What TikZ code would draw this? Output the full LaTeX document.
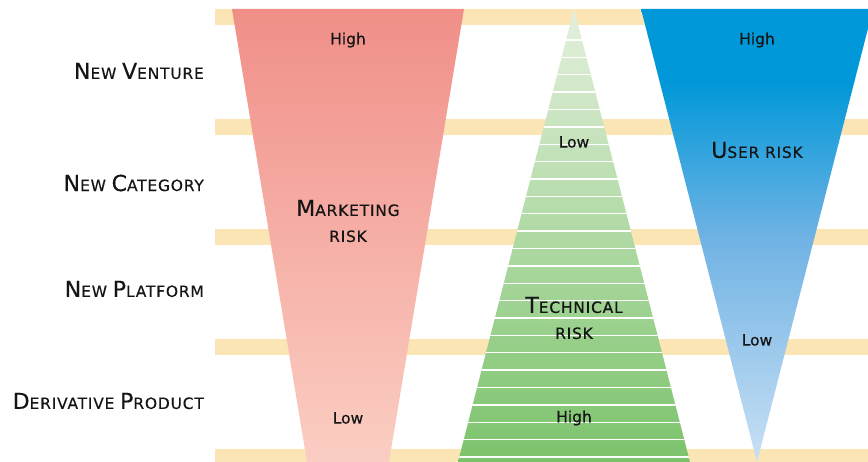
\documentclass[tikz,border=0pt]{standalone}
\usepackage{fontspec}
\setmainfont[FakeBold=0.4]{DejaVu Sans}
\newfontfamily\scfont[LetterSpace=5,FakeBold=0.4]{DejaVu Sans}
\definecolor{band}{HTML}{FCE5B5}
\definecolor{mkTop}{HTML}{F08F88}
\definecolor{mkBot}{HTML}{FBCEC3}
\definecolor{tcTop}{HTML}{E4F0DD}
\definecolor{tcBot}{HTML}{7BC36B}
\definecolor{usrTop}{HTML}{0098D8}
\definecolor{usrMid}{HTML}{6FB2E4}
\definecolor{usrBot}{HTML}{C9E0F4}
\definecolor{ink}{HTML}{151515}
% large initial capitals for the hand-made small caps
\newcommand\Bc[1]{{\fontsize{22}{24}\selectfont #1}}
\pgfdeclareverticalshading{usershade}{100bp}{%
  color(0bp)=(usrBot); color(25bp)=(usrBot); color(50bp)=(usrMid);
  color(67bp)=(usrTop); color(100bp)=(usrTop)}
\begin{document}
\begin{tikzpicture}[x=1pt,y=1pt]
\tikzset{
  rowlabel/.style={anchor=east, inner sep=0pt, text=ink, font=\scfont\fontsize{15.5}{18}\selectfont},
  risklabel/.style={align=center, inner sep=0pt, text=ink, font=\scfont\fontsize{15.5}{26}\selectfont},
  levellabel/.style={inner sep=0pt, text=ink, font=\fontsize{15.5}{18}\selectfont},
  stripe/.style={draw=white, line width=1.3pt}
}
\useasboundingbox (0,0) rectangle (868,-462);
\clip (0,0) rectangle (868,-462);

% horizontal bands separating the rows
\foreach \y in {9,119,229,339,449}
  \fill[band] (215,-\y) rectangle (868,-\y-16);

% marketing risk funnel
\shade[top color=mkTop, bottom color=mkBot]
  (232,-9) -- (464,-9) -- (389,-462) -- (307,-462) -- cycle;

% technical risk pyramid with white stripes
\shade[top color=tcTop, bottom color=tcBot]
  (574,-9) -- (690,-462) -- (458,-462) -- cycle;
\begin{scope}
  \clip (574,-9) -- (690,-462) -- (458,-462) -- cycle;
  \foreach \k in {0,...,24}
    \draw[stripe] (440,{-40-17.375*\k}) -- (710,{-40-17.375*\k});
\end{scope}

% user risk funnel
\shade[shading=usershade]
  (641,-9) -- (873,-9) -- (757,-462) -- cycle;

% row labels
\node[rowlabel] (venture)    at (204,-71)  {\Bc{N}EW \Bc{V}ENTURE};
\node[rowlabel] (category)   at (204,-183) {\Bc{N}EW \Bc{C}ATEGORY};
\node[rowlabel] (platform)   at (204,-289) {\Bc{N}EW \Bc{P}LATFORM};
\node[rowlabel] (derivative) at (204,-401) {\Bc{D}ERIVATIVE \Bc{P}RODUCT};

% marketing risk labels
\node[levellabel] (mkHigh) at (348,-40)  {High};
\node[risklabel]  (mkName) at (348,-221) {\Bc{M}ARKETING\\RISK};
\node[levellabel] (mkLow)  at (348,-418) {Low};

% technical risk labels
\node[levellabel] (tcLow)  at (574,-142) {Low};
\node[risklabel]  (tcName) at (574,-318) {\Bc{T}ECHNICAL\\RISK};
\node[levellabel] (tcHigh) at (574,-418) {High};

% user risk labels
\node[levellabel] (usHigh) at (757,-40)  {High};
\node[risklabel]  (usName) at (757,-150) {\Bc{U}SER RISK};
\node[levellabel] (usLow)  at (757,-340) {Low};
\end{tikzpicture}
\end{document}
